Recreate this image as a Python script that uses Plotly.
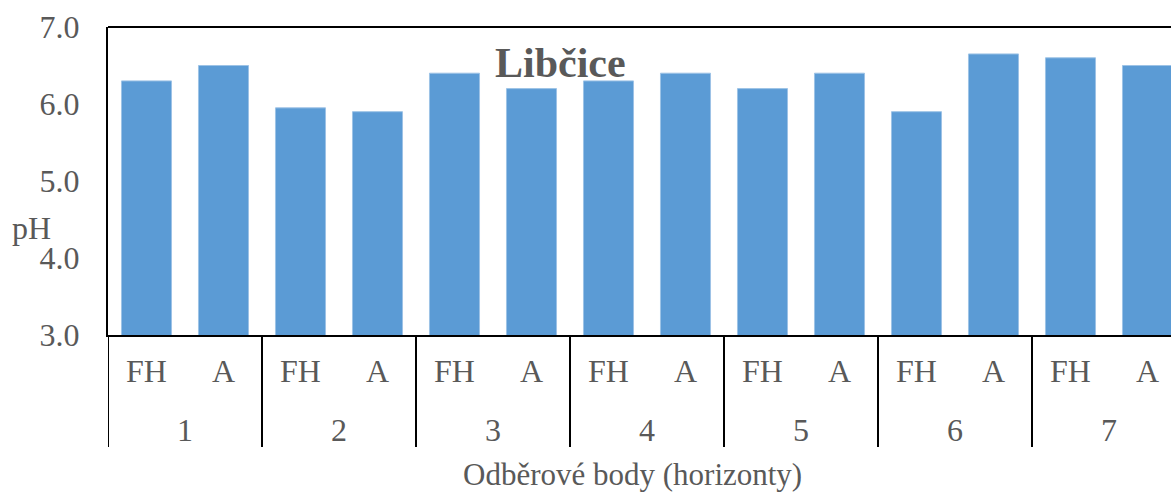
import plotly.graph_objects as go

sites = ["1", "1", "2", "2", "3", "3", "4", "4", "5", "5", "6", "6", "7", "7"]
horizons = ["FH", "A"] * 7
ph_values = [6.3, 6.5, 5.95, 5.9, 6.4, 6.2, 6.3, 6.4, 6.2, 6.4, 5.9, 6.65, 6.6, 6.5]
y_ticks = [3.0, 4.0, 5.0, 6.0, 7.0]

FONT = "Liberation Serif"
GRAY = "#595959"

W, H = 1171, 493
L, T = 108, 27
PH = 308
B = H - T - PH
PW = W - L
UNIT = 77.0

categories = [f"{s}-{h}" for s, h in zip(sites, horizons)]

# group positions (index of first and last bar of each site)
groups = []
for i, s in enumerate(sites):
    if not groups or groups[-1][0] != s:
        groups.append([s, i, i])
    else:
        groups[-1][2] = i

def py(pix):  # pixel y -> paper y
    return (335 - pix) / PH

fig = go.Figure()
fig.add_trace(go.Bar(
    x=categories,
    y=ph_values,
    marker=dict(color="#5B9BD5", line=dict(color="#9DC3E6", width=1)),
    width=0.65,
))

annotations = [
    dict(text="<b>Libčice</b>", xref="paper", yref="paper", x=(560 - 108) / PW, y=py(63),
         showarrow=False, font=dict(family=FONT, size=42, color=GRAY), xanchor="center", yanchor="middle"),
    dict(text="pH", xref="paper", yref="paper", x=-(108 - 31) / PW, y=py(228),
         showarrow=False, font=dict(family=FONT, size=32, color=GRAY), xanchor="center", yanchor="middle"),
    dict(text="Odběrové body (horizonty)", xref="paper", yref="paper", x=(632 - 108) / PW, y=py(474),
         showarrow=False, font=dict(family=FONT, size=31, color=GRAY), xanchor="center", yanchor="middle"),
]
shapes = [
    dict(type="line", xref="paper", yref="paper", x0=0, x1=1, y0=1, y1=1, line=dict(color="black", width=2)),
]
for name, i0, i1 in groups:
    annotations.append(dict(text=name, xref="x", yref="paper", x=(i0 + i1) / 2, y=py(430),
                            showarrow=False, font=dict(family=FONT, size=32, color=GRAY),
                            xanchor="center", yanchor="middle"))
    shapes.append(dict(type="line", xref="x", yref="paper", x0=i0 - 0.5, x1=i0 - 0.5,
                       y0=0, y1=py(447), line=dict(color="black", width=2)))

fig.update_layout(
    width=W, height=H,
    margin=dict(l=L, r=0, t=T, b=B),
    plot_bgcolor="white", paper_bgcolor="white",
    showlegend=False,
    font=dict(family=FONT, color=GRAY, size=32),
    xaxis=dict(
        type="category",
        range=[-0.5, -0.5 + PW / UNIT],
        tickvals=categories, ticktext=horizons,
        showline=True, linecolor="black", linewidth=2,
        ticks="", showgrid=False,
        tickfont=dict(family=FONT, size=32, color=GRAY),
        ticklabelstandoff=7,
    ),
    yaxis=dict(
        range=[3, 7],
        tickvals=y_ticks,
        tickformat=".1f",
        showline=True, linecolor="black", linewidth=2,
        showgrid=False, zeroline=False, ticks="",
        tickfont=dict(family=FONT, size=32, color=GRAY),
        ticklabelstandoff=20,
    ),
    annotations=annotations,
    shapes=shapes,
)

fig.write_html("out.html",
               config={"displayModeBar": False},
               post_script="document.body.style.margin='0';document.body.style.overflow='hidden';")
